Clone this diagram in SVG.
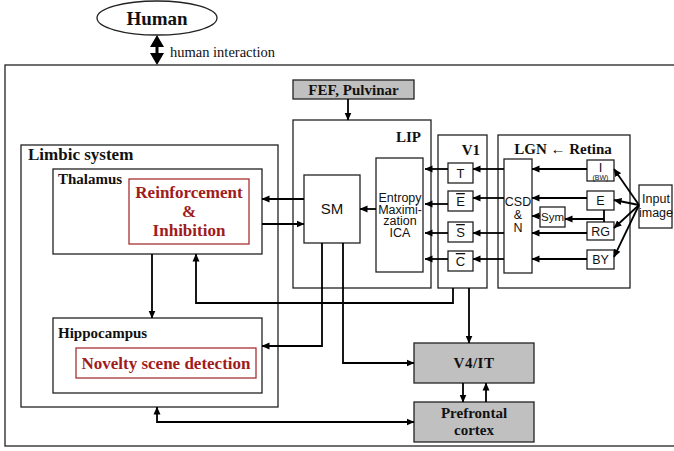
<svg xmlns="http://www.w3.org/2000/svg" width="674" height="451" viewBox="0 0 674 451">
<defs>
<marker id="ah" markerUnits="userSpaceOnUse" markerWidth="8" markerHeight="8" refX="7.5" refY="4" orient="auto-start-reverse">
<path d="M0,0.5 L8,4 L0,7.5 z" fill="#000"/>
</marker>
<style>
.box{fill:#fff;stroke:#222;stroke-width:1.3}
.gray{fill:#c0c0c0;stroke:#222;stroke-width:1.3}
.red{fill:#fff;stroke:#a83232;stroke-width:1.3}
.ln{fill:none;stroke:#000;stroke-width:1.8}
.ar{fill:none;stroke:#000;stroke-width:1.8;marker-end:url(#ah)}
.bs{font-family:"Liberation Serif","Times New Roman",serif;font-weight:bold;fill:#111}
.rt{font-family:"Liberation Serif","Times New Roman",serif;font-weight:bold;fill:#a01c1c;font-size:17px;text-anchor:middle}
.ss{font-family:"Liberation Sans",Arial,sans-serif;fill:#111;text-anchor:middle}
</style>
</defs>
<rect width="674" height="451" fill="#fff"/>

<g id="human">
<ellipse cx="157" cy="18" rx="60" ry="17" class="box"/>
<text x="157" y="25" class="bs" font-size="19" text-anchor="middle">Human</text>
</g>
<g id="human-arrow">
<polygon points="157,35 150,47 155.5,47 155.5,53 150,53 157,65 164,53 158.5,53 158.5,47 164,47" fill="#000"/>
<text x="170" y="57" font-family="'Liberation Serif','Times New Roman',serif" font-size="14.5" fill="#111">human interaction</text>
</g>

<g id="outer"><rect x="5" y="65" width="690" height="381" class="box" fill="none"/></g>

<g id="fef">
<rect x="293" y="80" width="121" height="19" class="gray"/>
<text x="353.5" y="94.5" class="bs" font-size="15" text-anchor="middle">FEF, Pulvinar</text>
</g>

<g id="lip">
<rect x="293" y="120" width="138" height="168" class="box"/>
<text x="421" y="142" class="bs" font-size="15" text-anchor="end">LIP</text>
</g>
<g id="sm">
<rect x="304" y="175" width="56" height="68" class="box"/>
<text x="332" y="214" class="ss" font-size="15">SM</text>
</g>
<g id="ica">
<rect x="376" y="158" width="47" height="114" class="box"/>
<text class="ss" font-size="12.5"><tspan x="400" y="202">Entropy</tspan><tspan x="400" y="213.7">Maximi-</tspan><tspan x="400" y="225.4">zation</tspan><tspan x="400" y="237">ICA</tspan></text>
</g>

<g id="v1">
<rect x="438" y="135" width="49" height="153" class="box"/>
<text x="480" y="155" class="bs" font-size="15" text-anchor="end">V1</text>
</g>
<g id="v1-t"><rect x="448" y="163" width="25" height="20" class="box"/><text x="460.5" y="178" class="ss" font-size="13">T</text></g>
<g id="v1-e"><rect x="448" y="191" width="25" height="20" class="box"/><text x="460.5" y="206" class="ss" font-size="13" text-decoration="overline">E</text></g>
<g id="v1-s"><rect x="448" y="222" width="25" height="20" class="box"/><text x="460.5" y="237" class="ss" font-size="13" text-decoration="overline">S</text></g>
<g id="v1-c"><rect x="448" y="251" width="25" height="20" class="box"/><text x="460.5" y="266" class="ss" font-size="13" text-decoration="overline">C</text></g>

<g id="lgn">
<rect x="498" y="135" width="132" height="153" class="box"/>
<text x="563" y="154" class="bs" font-size="15" text-anchor="middle">LGN ← Retina</text>
</g>
<g id="csd">
<rect x="504" y="159" width="28" height="114" class="box"/>
<text class="ss" font-size="12.5"><tspan x="518" y="206">CSD</tspan><tspan x="518" y="219">&amp;</tspan><tspan x="518" y="232">N</tspan></text>
</g>
<g id="r-i"><rect x="587" y="160" width="27" height="21" class="box"/><text x="600.5" y="172" class="ss" font-size="13">I</text><text x="600.5" y="180" class="ss" font-size="7">(BW)</text></g>
<g id="r-e"><rect x="587" y="191" width="27" height="19" class="box"/><text x="600.5" y="205" class="ss" font-size="12.5">E</text></g>
<g id="r-rg"><rect x="587" y="222" width="27" height="18" class="box"/><text x="600.5" y="236" class="ss" font-size="12.5">RG</text></g>
<g id="r-by"><rect x="587" y="250" width="27" height="19" class="box"/><text x="600.5" y="264" class="ss" font-size="12.5">BY</text></g>
<g id="sym"><rect x="540" y="207" width="25" height="20" class="box"/><text x="552.5" y="221" class="ss" font-size="11.5">Sym</text></g>
<g id="input"><rect x="639" y="185" width="33" height="43" class="box"/><text class="ss" font-size="12.5"><tspan x="656" y="203">Input</tspan><tspan x="656" y="217">image</tspan></text></g>

<g id="limbic">
<rect x="21" y="145" width="257" height="262" class="box"/>
<text x="28" y="160" class="bs" font-size="17">Limbic system</text>
</g>
<g id="thalamus">
<rect x="53" y="169" width="209" height="85" class="box"/>
<text x="58" y="184" class="bs" font-size="15">Thalamus</text>
<rect x="129" y="179" width="120" height="65" class="red"/>
<text class="rt"><tspan x="189" y="198">Reinforcement</tspan><tspan x="189" y="217">&amp;</tspan><tspan x="189" y="236">Inhibition</tspan></text>
</g>
<g id="hippocampus">
<rect x="53" y="318" width="209" height="75" class="box"/>
<text x="58" y="338" class="bs" font-size="15">Hippocampus</text>
<rect x="76" y="348" width="180" height="30" class="red"/>
<text x="166" y="369" class="rt">Novelty scene detection</text>
</g>

<g id="v4">
<rect x="414" y="343" width="120" height="40" class="gray"/>
<text x="474" y="368" class="bs" font-size="15" text-anchor="middle" letter-spacing="0.5">V4/IT</text>
</g>
<g id="prefrontal">
<rect x="414" y="402" width="120" height="40" class="gray"/>
<text class="bs" font-size="15" text-anchor="middle"><tspan x="474" y="418">Prefrontal</tspan><tspan x="474" y="435">cortex</tspan></text>
</g>

<g id="connectors">
<path class="ar" d="M348,99 V120"/>
<path class="ar" d="M376,209 H360"/>
<path class="ar" d="M448,169 H425"/>
<path class="ar" d="M448,204 H425"/>
<path class="ar" d="M448,233 H425"/>
<path class="ar" d="M448,259 H425"/>
<path class="ar" d="M504,169 H473"/>
<path class="ar" d="M504,198 H473"/>
<path class="ar" d="M504,233 H473"/>
<path class="ar" d="M504,259 H473"/>
<path class="ar" d="M587,169 H532"/>
<path class="ar" d="M587,198 H532"/>
<path class="ar" d="M587,233 H532"/>
<path class="ar" d="M587,259 H532"/>
<path class="ln" d="M604,210 V222"/>
<path class="ar" d="M604,219 H565"/>
<path class="ar" d="M540,216 H532"/>
<path class="ar" d="M639,205 L614,169"/>
<path class="ar" d="M639,205 L614,200"/>
<path class="ar" d="M639,205 L614,228"/>
<path class="ar" d="M639,205 L614,257"/>
<path class="ar" d="M304,199 H262"/>
<path class="ar" d="M262,224 H304"/>
<path class="ar" d="M152,254 V318"/>
<path class="ar" d="M453,288 V303 H196 V254"/>
<path class="ar" d="M469,288 V343"/>
<path class="ar" d="M322,243 V346 H262"/>
<path class="ar" d="M343,243 V363 H414"/>
<path class="ar" d="M463,383 V402"/>
<path class="ar" d="M486,402 V383"/>
<path class="ar" d="M414,422 H157 V407" style="marker-start:url(#ah)"/>
</g>
</svg>
